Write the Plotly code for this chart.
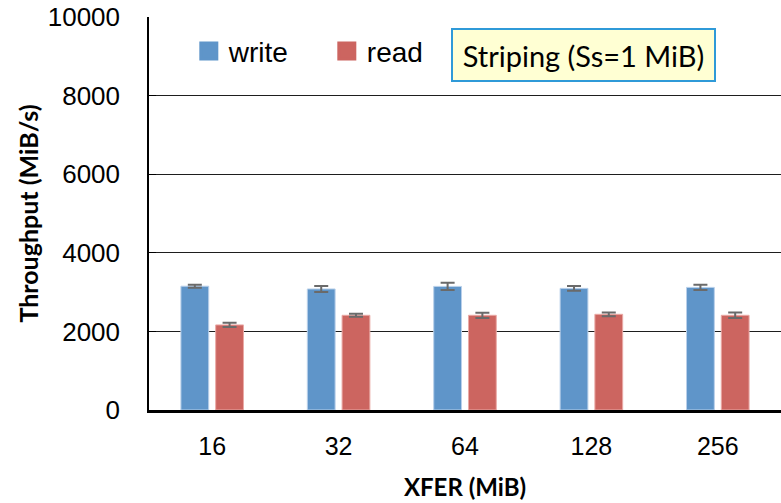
import plotly.graph_objects as go

categories = ["16", "32", "64", "128", "256"]
write_vals = [3150, 3080, 3145, 3095, 3120]
write_err = [40, 75, 92, 60, 68]
read_vals = [2165, 2410, 2410, 2435, 2410]
read_err = [55, 40, 66, 47, 70]
y_ticks = [0, 2000, 4000, 6000, 8000, 10000]
y_ticktext = ["0", "2000", "4000", "6000", "8000", "10000"]

WRITE_C = "#5f95c9"
READ_C = "#cc6560"
ARIAL = "Arial, Liberation Sans, sans-serif"
CAL = "Lato, Carlito, Calibri, sans-serif"

fig = go.Figure()
fig.add_trace(go.Bar(
    x=categories, y=write_vals, name="write", showlegend=False,
    marker=dict(color=WRITE_C, line=dict(color="#b9d0ea", width=1)),
    error_y=dict(type="data", array=write_err, color="#6a6a6a", thickness=2, width=7),
))
fig.add_trace(go.Bar(
    x=categories, y=read_vals, name="read", showlegend=False,
    marker=dict(color=READ_C, line=dict(color="#eaaaa6", width=1)),
    error_y=dict(type="data", array=read_err, color="#6a6a6a", thickness=2, width=7),
))
# legend entries (square swatches)
for nm, col in (("write", WRITE_C), ("read", READ_C)):
    fig.add_trace(go.Scatter(
        x=[None], y=[None], mode="markers", name=nm,
        marker=dict(symbol="square", size=16, color=col, line=dict(color=col, width=3)),
    ))

fig.update_layout(
    width=781, height=503,
    margin=dict(l=149, r=0, t=17, b=93, autoexpand=False),
    plot_bgcolor="white", paper_bgcolor="white",
    barmode="group", bargap=0.45, bargroupgap=0.2,
    showlegend=True,
    legend=dict(orientation="h", x=0.063, y=0.913, xanchor="left", yanchor="middle",
                font=dict(family=ARIAL, size=28, color="black"),
                bgcolor="rgba(0,0,0,0)", entrywidth=93, entrywidthmode="pixels"),
    xaxis=dict(
        type="category", showgrid=False, showline=True, linecolor="black", linewidth=2.5,
        ticks="", tickfont=dict(family=ARIAL, size=25, color="black"),
        ticklabelstandoff=12, automargin=False,
        title=dict(text="<b>XFER (MiB)</b>", font=dict(family=CAL, size=24, color="black"), standoff=21),
    ),
    yaxis=dict(
        range=[0, 10000], tickvals=y_ticks, ticktext=y_ticktext,
        showgrid=True, gridcolor="#1e1e1e", gridwidth=1.3,
        showline=True, linecolor="black", linewidth=1.5, zeroline=False,
        ticks="inside", ticklen=7, tickcolor="black", automargin=False,
        tickfont=dict(family=ARIAL, size=26, color="black"), ticklabelstandoff=22,
        title=dict(text="<b>Throughput (MiB/s)</b>", font=dict(family=CAL, size=25, color="black"), standoff=2),
    ),
    annotations=[dict(
        xref="paper", yref="paper", x=0.6875, y=0.903, xanchor="center", yanchor="middle",
        text="Striping (Ss=1 MiB)", showarrow=False, width=247, height=36,
        font=dict(family=CAL, size=29, color="black"),
        bgcolor="#ffffd3", bordercolor="#2f9ad8", borderwidth=2, borderpad=7,
    )],
)

fig.write_html("out.html", config={"displayModeBar": False},
               post_script="document.body.style.margin='0';document.body.style.overflow='hidden';")
